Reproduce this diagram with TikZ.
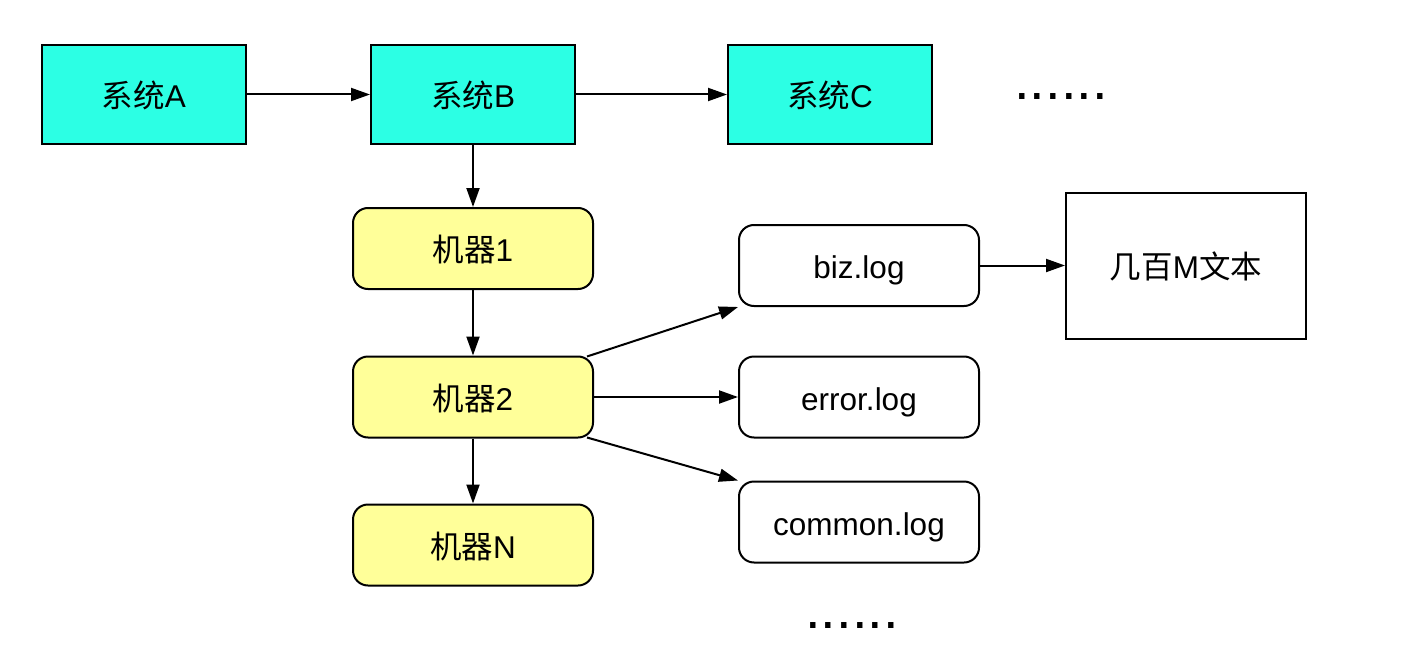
\documentclass[tikz,border=0pt]{standalone}
\usepackage{fontspec}
\setmainfont{Liberation Sans}
\newfontfamily\cjk{Noto Sans CJK SC}
\usetikzlibrary{arrows.meta}
\definecolor{sysfill}{HTML}{2CFFE4}
\definecolor{machfill}{HTML}{FFFF99}
\begin{document}
\begin{tikzpicture}[x=1pt,y=-1pt,
  every node/.style={font=\fontsize{31.5}{32}\selectfont, inner sep=0pt, text height=26pt, text depth=0pt},
  sysbox/.style={draw=black, line width=2pt, fill=sysfill, minimum width=204pt, minimum height=99pt},
  machbox/.style={draw=black, line width=2pt, fill=machfill, rounded corners=15pt, minimum width=240pt, minimum height=81pt},
  logbox/.style={draw=black, line width=2pt, fill=white, rounded corners=15pt, minimum width=240pt, minimum height=81pt},
  textbox/.style={draw=black, line width=2pt, fill=white, minimum width=240pt, minimum height=146pt},
  dots/.style={font=\fontsize{56}{56}\selectfont, text height=0pt, text depth=0pt},
  conn/.style={line width=2pt, -{Triangle[length=19pt,width=13pt]}}]
\useasboundingbox (0,0) rectangle (1418,666);
\node[sysbox] (A) at (144,94.5) {{\cjk 系统}A};
\node[sysbox] (B) at (473,94.5) {{\cjk 系统}B};
\node[sysbox] (C) at (830,94.5) {{\cjk 系统}C};
\node[dots] (d1) at (1061,100) {......};
\node[machbox] (m1) at (473,248.5) {{\cjk 机器}1};
\node[machbox] (m2) at (473,397) {{\cjk 机器}2};
\node[machbox] (mN) at (473,545) {{\cjk 机器}N};
\node[logbox] (biz) at (859,265.5) {biz.log};
\node[logbox] (err) at (859,397) {error.log};
\node[logbox] (com) at (859,522) {common.log};
\node[textbox] (txt) at (1186,265.5) {{\cjk 几百}M{\cjk 文本}};
\node[dots] (d2) at (852,628) {......};
\draw[conn] (A) -- (B);
\draw[conn] (B) -- (C);
\draw[conn] (B) -- (m1);
\draw[conn] (m1) -- (m2);
\draw[conn] (m2) -- (mN);
\draw[conn] (m2.north east) ++(-7,1) coordinate (s1) -- (biz.south west);
\draw[conn] (m2) -- (err);
\draw[conn] (m2.south east) ++(-7,-1) coordinate (s2) -- (com.north west);
\draw[conn] (biz) -- (txt);
\end{tikzpicture}
\end{document}
